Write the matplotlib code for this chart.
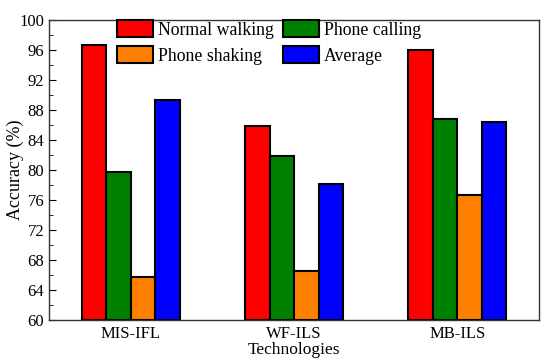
import numpy as np
import matplotlib.pyplot as plt
from matplotlib.ticker import MultipleLocator

plt.rcParams['font.family'] = ['Liberation Serif', 'DejaVu Serif']

technologies = ["MIS-IFL", "WF-ILS", "MB-ILS"]
normal_walking = [96.7, 85.9, 96.0]
phone_calling = [79.8, 81.9, 86.8]
phone_shaking = [65.7, 66.6, 76.7]
average = [89.3, 78.1, 86.4]

series = [
    ("Normal walking", normal_walking, "#ff0000"),
    ("Phone calling", phone_calling, "#008000"),
    ("Phone shaking", phone_shaking, "#ff8000"),
    ("Average", average, "#0000ff"),
]

fig = plt.figure(figsize=(5.5, 3.62), dpi=100)
ax = fig.add_axes([49 / 550, 42 / 362, 490 / 550, 300 / 362])

x = np.arange(len(technologies))
width = 0.15
handles = {}
for i, (name, vals, color) in enumerate(series):
    bars = ax.bar(x + (i - 1.5) * width, np.array(vals) - 60, width, bottom=60,
                  color=color, edgecolor="black", linewidth=1.5, label=name)
    handles[name] = bars

ax.set_xlim(-0.5, 2.5)
ax.set_ylim(60, 100)
ax.set_xticks(x)
ax.set_xticklabels(technologies, fontsize=12)
ax.tick_params(axis="x", length=0, pad=4)
ax.yaxis.set_major_locator(MultipleLocator(4))
ax.yaxis.set_minor_locator(MultipleLocator(2))
ax.tick_params(axis="y", which="both", direction="in", labelsize=12)
ax.tick_params(axis="y", which="major", length=5)
ax.tick_params(axis="y", which="minor", length=3)
for s in ax.spines.values():
    s.set_linewidth(1.0)
    s.set_color("#333333")

ax.set_ylabel("Accuracy (%)", fontsize=13, va="center")
ax.yaxis.set_label_coords(-0.069, 0.5)
ax.set_xlabel("Technologies", fontsize=12.5, labelpad=0)

order = ["Normal walking", "Phone shaking", "Phone calling", "Average"]
ax.legend([handles[n] for n in order], order, ncol=2, loc="upper left",
          bbox_to_anchor=(0.1388, 1.0), frameon=False, fontsize=12.8,
          handlelength=2.05, handleheight=1.13, handletextpad=0.27,
          columnspacing=0.5, labelspacing=0.4, borderaxespad=0, borderpad=0)

fig.savefig("out.png", dpi=100)
